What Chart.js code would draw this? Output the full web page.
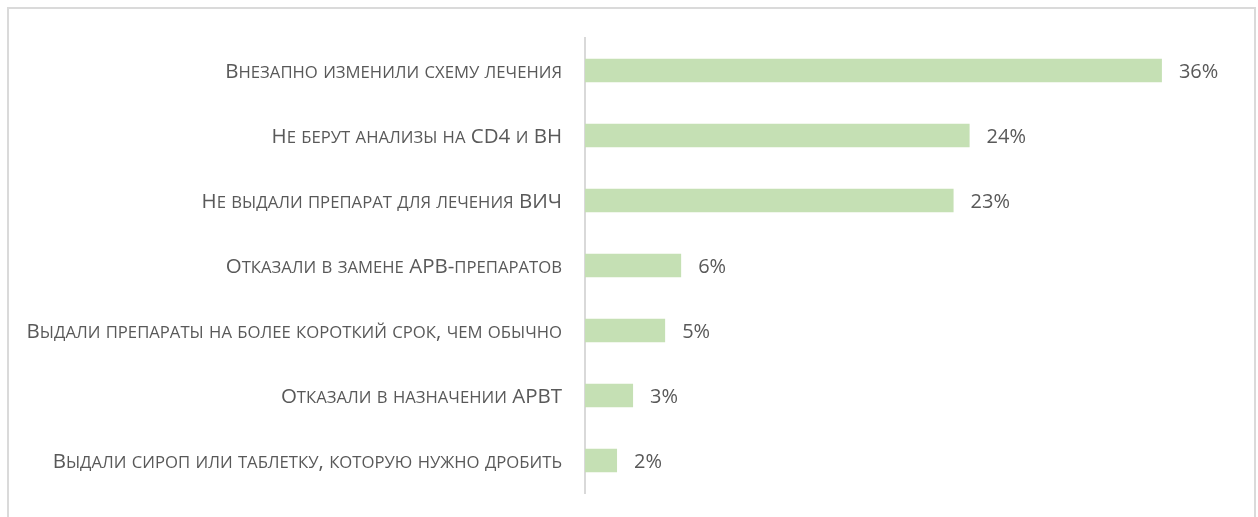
<!DOCTYPE html>
<html>
<head>
<meta charset="utf-8">
<script src="https://cdn.jsdelivr.net/npm/chart.js@4"></script>
<style>
    body { margin: 0; background: #fff; }
    #wrap { position: relative; width: 1258px; height: 517px; }
    #frame {
        position: absolute; left: 7px; top: 7px; width: 1249px; height: 560px;
        border: 2px solid #dadada; box-sizing: border-box; pointer-events: none;
    }
</style>
</head>
<body>
<div id="wrap">
    <canvas id="barChart"></canvas>
    <div id="frame"></div>
</div>
<script>
// Categories and values (percent)
const categories = [
    'Внезапно изменили схему лечения',
    'Не берут анализы на CD4 и ВН',
    'Не выдали препарат для лечения ВИЧ',
    'Отказали в замене АРВ-препаратов',
    'Выдали препараты на более короткий срок, чем обычно',
    'Отказали в назначении АРВТ',
    'Выдали сироп или таблетку, которую нужно дробить'
];
const values = [36, 24, 23, 6, 5, 3, 2];
const valueLabels = ['36%', '24%', '23%', '6%', '5%', '3%', '2%'];

const textColor = '#595959';
const labelSize = 20.5;

// Category label in small caps: lower-case letters become smaller capitals
function drawSmallCaps(ctx, text, xRight, y, size) {
    const big = size + "px 'Open Sans'";
    const small = (size * 0.815) + "px 'Open Sans'";
    const runs = [];
    for (const ch of text) {
        const lower = ch !== ch.toUpperCase();
        const font = lower ? small : big;
        const c = lower ? ch.toUpperCase() : ch;
        const last = runs[runs.length - 1];
        if (last && last.font === font) last.text += c;
        else runs.push({ font: font, text: c });
    }
    let total = 0;
    runs.forEach(r => { ctx.font = r.font; r.w = ctx.measureText(r.text).width; total += r.w; });
    let x = xRight - total;
    runs.forEach(r => { ctx.font = r.font; ctx.fillText(r.text, x, y); x += r.w; });
}

const labelsPlugin = {
    id: 'labels',
    afterDatasetsDraw(chart) {
        const ctx = chart.ctx;
        const meta = chart.getDatasetMeta(0);
        const yScale = chart.scales.y;
        ctx.save();
        ctx.fillStyle = textColor;
        ctx.textAlign = 'left';
        ctx.textBaseline = 'alphabetic';
        categories.forEach((label, i) => {
            const y = yScale.getPixelForValue(i);
            drawSmallCaps(ctx, label, yScale.right - 23, y + 7.5, labelSize);
        });
        // percent labels to the right of each bar
        ctx.font = "20px 'Open Sans'";
        ctx.textBaseline = 'middle';
        meta.data.forEach((bar, i) => {
            ctx.fillText(valueLabels[i], bar.x + 17, bar.y + 1.5);
        });
        ctx.restore();
    }
};

Chart.defaults.font.family = "'Open Sans'";
Chart.defaults.color = textColor;

new Chart(document.getElementById('barChart'), {
    type: 'bar',
    data: {
        labels: categories,
        datasets: [{
            data: values,
            backgroundColor: '#c5e0b4',
            borderWidth: 0,
            categoryPercentage: 1,
            barPercentage: 0.36
        }]
    },
    options: {
        indexAxis: 'y',
        responsive: true,
        maintainAspectRatio: false,
        animation: false,
        layout: { padding: { top: 38, bottom: 24, left: 0, right: 32 } },
        plugins: {
            legend: { display: false },
            tooltip: { enabled: false }
        },
        scales: {
            x: {
                display: false,
                min: 0,
                max: 40
            },
            y: {
                afterFit(scale) { scale.width = 585; },
                grid: { display: false, drawTicks: false },
                border: { display: true, color: '#d9d9d9', width: 2 },
                ticks: { display: false }
            }
        }
    },
    plugins: [labelsPlugin]
});
</script>
</body>
</html>
